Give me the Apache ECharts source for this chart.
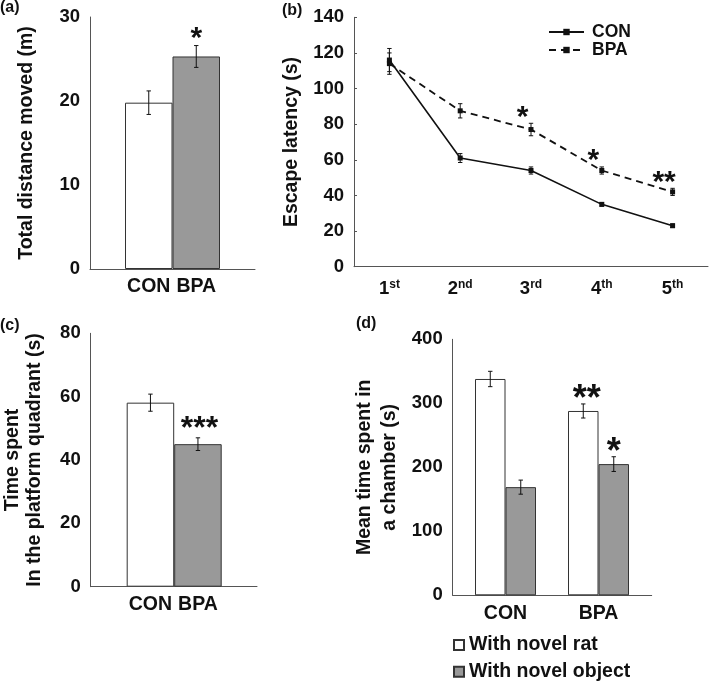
<!DOCTYPE html>
<html>
<head>
<meta charset="utf-8">
<script src="https://cdn.jsdelivr.net/npm/echarts@6/dist/echarts.min.js"></script>
<style>html,body{margin:0;padding:0;background:#fff}#c{width:709px;height:682px}</style>
</head>
<body>
<div id="c"></div>
<script>
// ---------- data ----------
// (a) Total distance moved
const catsA = ['CON', 'BPA'];
const distA = [19.8, 25.3];
const distErrA = [1.4, 1.3];
const sigA = ['', '*'];
// (b) Escape latency
const trials = ['1st', '2nd', '3rd', '4th', '5th'];
const latCON = [116, 61, 54, 35, 23];
const latCONErr = [6.5, 2.5, 2, 1, 1];
const latBPA = [114, 87.5, 77, 54, 42];
const latBPAErr = [6, 4, 3.5, 2, 2];
const sigB = ['', '', '*', '*', '**'];
// (c) Time spent in platform quadrant
const catsC = ['CON', 'BPA'];
const timeC = [58.1, 45];
const timeErrC = [2.7, 2.0];
const sigC = ['', '***'];
// (d) Mean time spent in a chamber
const catsD = ['CON', 'BPA'];
const ratD = [338, 288];
const ratErrD = [12, 11];
const ratSigD = ['', '**'];
const objD = [169, 205];
const objErrD = [11, 11.5];
const objSigD = ['', '*'];
// tick labels
const ticksA = [0, 10, 20, 30];
const ticksB = [0, 20, 40, 60, 80, 100, 120, 140];
const ticksC = [0, 20, 40, 60, 80];
const ticksD = [0, 100, 200, 300, 400];

// ---------- style ----------
const FONT = '"Liberation Sans", Arial, sans-serif';
const AX = '#555';
const TXT = '#111';
const GRAY = '#999999';
const BORDER = '#333';

function outerX(gi) {
  return { gridIndex: gi, type: 'value', min: 0, max: 1,
    axisLine: { show: true, onZero: false, lineStyle: { color: AX, width: 1 } },
    axisTick: { show: false }, axisLabel: { show: false }, splitLine: { show: false } };
}
function innerX(gi, cats) {
  return { gridIndex: gi, type: 'category', data: cats, boundaryGap: true,
    axisLine: { show: false }, axisTick: { show: false },
    axisLabel: { interval: 0, hideOverlap: false, color: TXT, fontFamily: FONT, fontWeight: 'bold', fontSize: 19.5, margin: 8 } };
}
function valY(gi, ticks, name, nameGap, lh) {
  return { gridIndex: gi, type: 'value', min: ticks[0], max: ticks[ticks.length - 1],
    interval: ticks[1] - ticks[0],
    axisLine: { show: true, lineStyle: { color: AX, width: 1 } },
    axisTick: { show: false }, splitLine: { show: false },
    axisLabel: { color: TXT, fontFamily: FONT, fontWeight: 'bold', fontSize: 18.5, margin: 10 },
    name: name, nameLocation: 'middle', nameGap: nameGap, nameRotate: 90,
    nameTextStyle: { color: TXT, fontFamily: FONT, fontWeight: 'bold', fontSize: 19.5, lineHeight: lh || 22 } };
}
function hiddenY(gi, ticks) {
  return { gridIndex: gi, type: 'value', show: false, min: ticks[0], max: ticks[ticks.length - 1],
    interval: ticks[1] - ticks[0], splitLine: { show: false } };
}

function errSeries(xi, yi, vals, errs, sig, dx, starDx, starSize, starLift) {
  return {
    type: 'custom', xAxisIndex: xi, yAxisIndex: yi, z: 10, silent: true,
    data: vals.map((v, i) => [i, v, errs[i]]),
    renderItem: function (params, api) {
      const i = api.value(0), v = api.value(1), e = api.value(2);
      const s = sig[i];
      const top = api.coord([i, v + e]);
      const bot = api.coord([i, v - e]);
      const cx = top[0] + dx;
      const cap = 2.2;
      const st = { stroke: '#111', lineWidth: 1 };
      const kids = [
        { type: 'line', shape: { x1: cx, y1: top[1], x2: cx, y2: bot[1] }, style: st },
        { type: 'line', shape: { x1: cx - cap, y1: top[1], x2: cx + cap, y2: top[1] }, style: st },
        { type: 'line', shape: { x1: cx - cap, y1: bot[1], x2: cx + cap, y2: bot[1] }, style: st }
      ];
      if (s) {
        kids.push({ type: 'text', x: cx + starDx, y: top[1] - starLift,
          style: { text: s, fill: '#111', font: 'bold ' + starSize + 'px ' + FONT,
            align: 'center', verticalAlign: 'middle' } });
      }
      return { type: 'group', children: kids };
    }
  };
}

const chart = echarts.init(document.getElementById('c'), null, { renderer: 'canvas' });

const barBase = { type: 'bar', barGap: '0%', itemStyle: { borderColor: BORDER, borderWidth: 1 } };
const legText = { fontFamily: FONT, fontWeight: 'bold', fontSize: 19.5, lineHeight: 24, color: TXT };

const option = {
  animation: false,
  backgroundColor: '#fff',
  textStyle: { fontFamily: FONT },
  title: [
    { text: '(a)', left: 0, top: 0, padding: 0, textStyle: { fontFamily: FONT, fontWeight: 'bold', fontSize: 16, color: TXT } },
    { text: '(b)', left: 282, top: 3, padding: 0, textStyle: { fontFamily: FONT, fontWeight: 'bold', fontSize: 16, color: TXT } },
    { text: '(c)', left: 0, top: 318, padding: 0, textStyle: { fontFamily: FONT, fontWeight: 'bold', fontSize: 16, color: TXT } },
    { text: '(d)', left: 356, top: 316, padding: 0, textStyle: { fontFamily: FONT, fontWeight: 'bold', fontSize: 16, color: TXT } }
  ],
  grid: [
    { left: 90, top: 17, width: 165, height: 252, outerBoundsMode: 'none' },
    { left: 125, top: 17, width: 95, height: 252, outerBoundsMode: 'none' },
    { left: 354, top: 17.3, width: 354, height: 249.4, outerBoundsMode: 'none' },
    { left: 90.7, top: 333.3, width: 166.3, height: 253.4, outerBoundsMode: 'none' },
    { left: 126.7, top: 333.3, width: 95, height: 253.4, outerBoundsMode: 'none' },
    { left: 452.7, top: 339.3, width: 199, height: 256, outerBoundsMode: 'none' },
    { left: 459, top: 339.3, width: 186, height: 256, outerBoundsMode: 'none' }
  ],
  xAxis: [
    outerX(0),
    innerX(1, catsA),
    { gridIndex: 2, type: 'category', data: trials, boundaryGap: true,
      axisLine: { show: true, lineStyle: { color: AX, width: 1 } }, axisTick: { show: false },
      axisLabel: { interval: 0, hideOverlap: false, margin: 12, color: TXT,
        formatter: function (v) { const m = v.match(/^(\d+)(.*)$/); return '{n|' + m[1] + '}{s|' + m[2] + '}'; },
        rich: {
          n: { fontFamily: FONT, fontWeight: 'bold', fontSize: 18.5, lineHeight: 20, color: TXT },
          s: { fontFamily: FONT, fontWeight: 'bold', fontSize: 12, lineHeight: 12, verticalAlign: 'top', color: TXT }
        } } },
    outerX(3),
    innerX(4, catsC),
    outerX(5),
    innerX(6, catsD)
  ],
  yAxis: [
    valY(0, ticksA, 'Total distance moved (m)', 52),
    hiddenY(1, ticksA),
    Object.assign(valY(2, ticksB, 'Escape latency (s)', 51), { axisTick: { show: true, inside: true, length: 3, lineStyle: { color: AX } } }),
    valY(3, ticksC, 'Time spent\nIn the platform quadrant (s)', 45, 22),
    hiddenY(4, ticksC),
    valY(5, ticksD, 'Mean time spent in\na chamber (s)', 51, 25),
    hiddenY(6, ticksD)
  ],
  legend: [
    { orient: 'vertical', left: 548, top: 23, padding: 0, itemWidth: 35, itemHeight: 8, itemGap: 0,
      data: ['CON', 'BPA'],
      textStyle: { fontFamily: FONT, fontWeight: 'bold', fontSize: 17.5, lineHeight: 17.6, color: TXT, padding: [0, 0, 0, 3] } },
    { left: 453, top: 633, padding: 0, itemWidth: 10, itemHeight: 10, icon: 'rect',
      data: ['With novel rat'], textStyle: legText },
    { left: 453, top: 659.7, padding: 0, itemWidth: 10, itemHeight: 10, icon: 'rect',
      data: ['With novel object'], textStyle: legText }
  ],
  series: [
    // (a)
    Object.assign({}, barBase, { name: 'distA', xAxisIndex: 1, yAxisIndex: 1, barWidth: '100%',
      data: distA.map((v, i) => ({ value: v, itemStyle: { color: i === 0 ? '#fff' : GRAY } })) }),
    errSeries(1, 1, distA, distErrA, sigA, 0, 0, 30, 7),
    // (b)
    { name: 'CON', type: 'line', xAxisIndex: 2, yAxisIndex: 2, data: latCON, symbol: 'rect', symbolSize: 5,
      lineStyle: { color: '#111', width: 1.6, type: 'solid' }, itemStyle: { color: '#111' }, z: 5 },
    { name: 'BPA', type: 'line', xAxisIndex: 2, yAxisIndex: 2, data: latBPA, symbol: 'rect', symbolSize: 5,
      lineStyle: { color: '#111', width: 1.8, type: [7, 5] }, itemStyle: { color: '#111' }, z: 5 },
    errSeries(2, 2, latCON, latCONErr, ['', '', '', '', ''], 0, 0, 30, 7),
    errSeries(2, 2, latBPA, latBPAErr, sigB, 0, -8.5, 30, 6),
    // (c)
    Object.assign({}, barBase, { name: 'timeC', xAxisIndex: 4, yAxisIndex: 4, barWidth: '100%',
      data: timeC.map((v, i) => ({ value: v, itemStyle: { color: i === 0 ? '#fff' : GRAY } })) }),
    errSeries(4, 4, timeC, timeErrC, sigC, 0, 1.5, 32, 9),
    // (d)
    Object.assign({}, barBase, { name: 'With novel rat', xAxisIndex: 6, yAxisIndex: 6, barWidth: 30.5,
      data: ratD, itemStyle: { color: '#fff', borderColor: BORDER, borderWidth: 1 } }),
    Object.assign({}, barBase, { name: 'With novel object', xAxisIndex: 6, yAxisIndex: 6, barWidth: 30.5,
      data: objD, itemStyle: { color: GRAY, borderColor: BORDER, borderWidth: 1 } }),
    errSeries(6, 6, ratD, ratErrD, ratSigD, -15.25, 3.5, 36, 4),
    errSeries(6, 6, objD, objErrD, objSigD, 15.25, 0, 36, 4)
  ]
};
chart.setOption(option);
</script>
</body>
</html>
